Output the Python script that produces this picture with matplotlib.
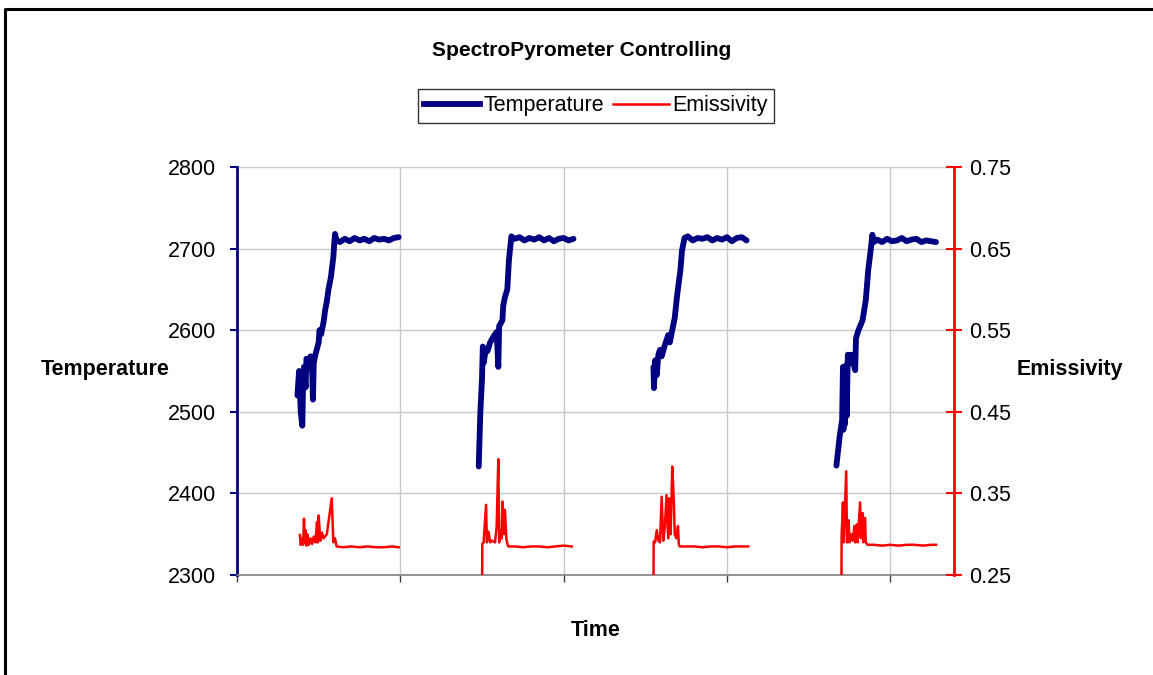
import matplotlib
matplotlib.use("Agg")
import matplotlib.pyplot as plt
from matplotlib.lines import Line2D
import numpy as np

plt.rcParams['font.family'] = ['Liberation Sans', 'DejaVu Sans']

# time axis in arbitrary units (one grid step = 100)
t1 = [37, 38, 38.5, 39, 40, 40.5, 41, 42, 42.5, 44, 45, 46, 46.5, 47, 48, 50, 50.5, 51.5, 53, 54, 55, 56, 57.5, 59, 59.5, 60, 61,
      63, 66, 69, 72, 75, 78, 81, 84, 87, 90, 93, 96, 99]
temp1 = [2520, 2550, 2530, 2500, 2483, 2540, 2555, 2530, 2565, 2560, 2568, 2550, 2515, 2560, 2570, 2585, 2600, 2595, 2610, 2625, 2635, 2650, 2665, 2690, 2705, 2718, 2710,
         2708, 2712, 2709, 2713, 2710, 2712, 2709, 2713, 2711, 2712, 2710, 2713, 2714]

t2 = [148, 149, 150, 150.5, 151, 152, 153.5, 155, 157, 159, 160, 160.5, 162.5, 163, 164, 165.5, 166.5, 168,
      170, 173, 176, 179, 182, 185, 188, 191, 194, 197, 200, 203, 206]
temp2 = [2433, 2500, 2540, 2580, 2560, 2572, 2575, 2585, 2592, 2598, 2555, 2605, 2612, 2630, 2640, 2650, 2686, 2715,
         2712, 2714, 2710, 2713, 2711, 2714, 2710, 2713, 2709, 2712, 2713, 2710, 2712]

t3 = [255, 255.3, 256, 257, 258, 259, 260, 262, 264, 265, 266.5, 268, 269.5, 271.5, 272.5, 274,
      276, 279, 282, 285, 288, 291, 294, 297, 300, 303, 306, 309, 312]
temp3 = [2555, 2529, 2563, 2545, 2570, 2576, 2568, 2582, 2594, 2585, 2600, 2615, 2643, 2674, 2698, 2713,
         2715, 2710, 2713, 2712, 2714, 2710, 2713, 2711, 2714, 2709, 2713, 2714, 2710]

t4 = [367, 369, 370.5, 371, 371.3, 371.8, 372.3, 372.8, 373.3, 374, 375, 376, 378.5, 379, 380.5, 383, 385, 386.5, 388, 389, 390,
      392, 395, 398, 401, 404, 407, 410, 413, 416, 419, 422, 425, 428]
temp4 = [2434, 2470, 2490, 2555, 2478, 2550, 2485, 2557, 2495, 2570, 2560, 2570, 2551, 2590, 2600, 2612, 2637, 2674, 2698, 2717, 2708,
         2711, 2708, 2712, 2709, 2710, 2713, 2709, 2711, 2712, 2708, 2710, 2709, 2708]

e_t1 = [38.5, 39, 40, 40.5, 41, 41.5, 42, 42.5, 43, 44, 45, 46, 47, 48, 49, 49.5, 50, 51, 52, 53, 55, 58, 59, 60, 61,
        65, 70, 75, 80, 85, 90, 95, 99]
emis1 = [0.299, 0.287, 0.295, 0.287, 0.319, 0.290, 0.305, 0.286, 0.300, 0.287, 0.295, 0.288, 0.297, 0.290, 0.315, 0.290, 0.323, 0.292, 0.302, 0.295, 0.300, 0.344, 0.290, 0.295, 0.285,
         0.284, 0.285, 0.284, 0.285, 0.284, 0.284, 0.285, 0.284]

e_t2 = [150, 150.2, 151, 152.5, 153, 154, 155, 156, 158, 159, 160, 160.5, 161, 162, 162.5, 163.5, 164, 165, 166,
        170, 175, 180, 185, 190, 195, 200, 205]
emis2 = [0.20, 0.288, 0.290, 0.336, 0.290, 0.303, 0.290, 0.292, 0.290, 0.310, 0.392, 0.290, 0.305, 0.295, 0.340, 0.300, 0.330, 0.293, 0.285,
         0.285, 0.284, 0.285, 0.285, 0.284, 0.285, 0.286, 0.285]

e_t3 = [255, 255.1, 256, 257, 258, 259, 260, 261, 262, 263, 264, 264.5, 265.5, 266.5, 267.5, 268, 269, 270, 270.5, 271,
        275, 280, 285, 290, 295, 300, 305, 310, 313]
emis3 = [0.20, 0.291, 0.290, 0.305, 0.292, 0.290, 0.346, 0.292, 0.310, 0.348, 0.295, 0.344, 0.300, 0.383, 0.339, 0.300, 0.295, 0.310, 0.288, 0.285,
         0.285, 0.285, 0.284, 0.285, 0.285, 0.284, 0.285, 0.285, 0.285]

e_t4 = [370, 370.2, 371, 371.5, 373, 373.5, 374.5, 375, 376, 377, 378, 378.5, 379.5, 380, 381.5, 382, 383, 383.5, 384.5, 385, 386,
        390, 395, 400, 405, 410, 415, 420, 425, 428]
emis4 = [0.20, 0.299, 0.339, 0.290, 0.377, 0.290, 0.317, 0.290, 0.300, 0.292, 0.310, 0.290, 0.312, 0.290, 0.339, 0.295, 0.326, 0.290, 0.320, 0.290, 0.287,
         0.287, 0.286, 0.287, 0.286, 0.287, 0.287, 0.286, 0.287, 0.287]

W, H = 1153, 675
fs = 15.5
fig = plt.figure(figsize=(W / 100, H / 100), dpi=100)
ax = fig.add_axes([237 / W, 1 - 575 / H, (954 - 237) / W, (575 - 167) / H])
ax2 = ax.twinx()

navy = '#000080'
red = '#ff0000'

for tt, yy in [(t1, temp1), (t2, temp2), (t3, temp3), (t4, temp4)]:
    ax.plot(tt, yy, color=navy, lw=4.2, solid_capstyle='round', solid_joinstyle='round', zorder=3)
for tt, yy in [(e_t1, emis1), (e_t2, emis2), (e_t3, emis3), (e_t4, emis4)]:
    ax2.plot(tt, yy, color=red, lw=1.8, zorder=3)

ax.set_xlim(0, 439)
ax.set_ylim(2300, 2800)
ax.set_yticks([2300, 2400, 2500, 2600, 2700, 2800])
ax.set_xticks([0, 100, 200, 300, 400])
ax.set_xticklabels([])
ax2.set_ylim(0.25, 0.75)
ax2.set_yticks([0.25, 0.35, 0.45, 0.55, 0.65, 0.75])
ax2.set_yticklabels(['0.25', '0.35', '0.45', '0.55', '0.65', '0.75'])

ax.grid(True, color='#c8c8c8', lw=1)
ax.set_axisbelow(True)

for s in ['top', 'right']:
    ax.spines[s].set_visible(False)
ax.spines['left'].set_color(navy)
ax.spines['left'].set_linewidth(2)
ax.spines['bottom'].set_color('#808080')
ax.spines['bottom'].set_linewidth(1.2)
for s in ['top', 'left', 'bottom']:
    ax2.spines[s].set_visible(False)
ax2.spines['right'].set_color(red)
ax2.spines['right'].set_linewidth(2)

ax.tick_params(axis='y', colors=navy, labelcolor='black', labelsize=fs, length=5, width=1.5, direction='out', pad=10)
ax.tick_params(axis='x', colors='#404040', length=5, width=1, direction='out')
ax2.tick_params(axis='y', colors=red, labelcolor='black', labelsize=fs, length=12, width=1.5, direction='inout', pad=5)

ax.set_xlabel('Time', fontsize=fs, fontweight='bold', labelpad=24)
fig.text(105 / W, 1 - 370 / H, 'Temperature', fontsize=fs, fontweight='bold', ha='center', va='center')
fig.text(1070 / W, 1 - 370 / H, 'Emissivity', fontsize=fs, fontweight='bold', ha='center', va='center')
fig.text(582 / W, 1 - 50 / H, 'SpectroPyrometer Controlling', fontsize=15, fontweight='bold', ha='center', va='center')

handles = [Line2D([], [], color=navy, lw=4.2), Line2D([], [], color=red, lw=1.8)]
leg = fig.legend(handles, ['Temperature', 'Emissivity'], loc='center', bbox_to_anchor=(596 / W, 1 - 106 / H),
                 ncol=2, fontsize=fs, frameon=True, fancybox=False, edgecolor='black', handlelength=2.6,
                 handletextpad=0.15, columnspacing=0.4, borderpad=0.3, borderaxespad=0)
leg.get_frame().set_linewidth(1)

# outer chart border (only left and top visible)
fig.add_artist(Line2D([5 / W, 5 / W, 1], [0, 1 - 9 / H, 1 - 9 / H], color='black', lw=2.2, transform=fig.transFigure))

fig.savefig('out.png', dpi=100)
